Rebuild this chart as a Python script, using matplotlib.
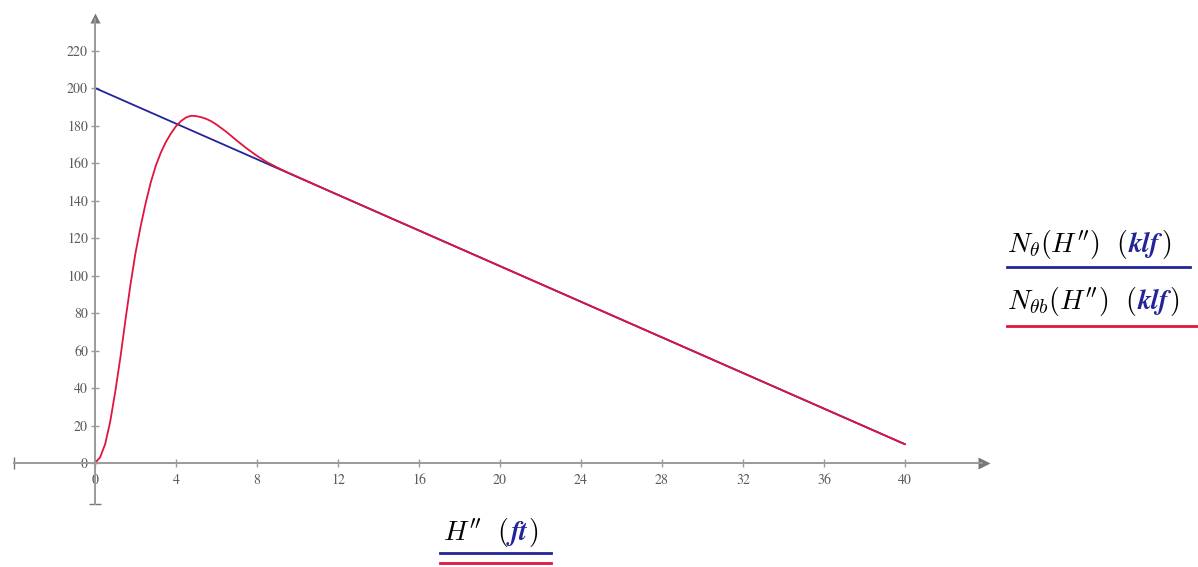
import matplotlib
matplotlib.use("Agg")
import matplotlib.pyplot as plt

plt.rcParams['mathtext.fontset'] = 'cm'

# depth below top of wall H'' (ft)
h_theta = [0, 40]
n_theta = [200, 10]

h_theta_b = [0, 0.25, 0.5, 0.75, 1.0, 1.25, 1.5, 1.75, 2.0, 2.25, 2.5, 2.75,
             3.0, 3.25, 3.5, 3.75, 4.0, 4.25, 4.5, 4.75, 5.0, 5.25, 5.5, 5.75,
             6.0, 6.5, 7.0, 7.5, 8.0, 8.5, 9.0, 9.5, 10.0, 11.0, 12.0, 40.0]
n_theta_b = [0, 3, 10, 22, 38, 56, 76, 95, 112, 126, 138.5, 149.5,
             158.5, 165.5, 171.2, 175.8, 179.6, 182.4, 184.3, 185.2, 185.0, 184.4, 183.5, 182.2,
             180.5, 176.5, 172.0, 167.7, 163.8, 160.4, 157.6, 155.0, 152.6, 147.8, 143.0, 10.0]

x_ticks = list(range(0, 41, 4))
y_ticks = list(range(0, 221, 20))

W, H = 1198, 567
BLUE = '#23239a'
RED = '#e0143c'
AXIS = '#9a9a9a'
LABEL = '#5a5a5a'


def fig_xy(px, py):
    return px / W, 1 - py / H


def draw_axes(ax):
    for side in ['top', 'right']:
        ax.spines[side].set_visible(False)
    ax.spines['left'].set_position(('data', 0))
    ax.spines['bottom'].set_position(('data', 0))
    ax.spines['bottom'].set_bounds(-4, 43.8)
    ax.spines['left'].set_bounds(-22, 237)
    for side in ['left', 'bottom']:
        ax.spines[side].set_color(AXIS)
        ax.spines[side].set_linewidth(1.4)
    ax.set_xticks(x_ticks)
    ax.set_yticks(y_ticks)
    ax.tick_params(direction='inout', length=6, width=1, color=AXIS,
                   labelsize=10, labelcolor=LABEL)
    ax.tick_params(axis='x', pad=5)
    ax.tick_params(axis='y', pad=2)
    for lab in ax.get_xticklabels() + ax.get_yticklabels():
        lab.set_family('STIXGeneral')
    # end caps and arrow heads
    ax.plot([-4], [0], marker='|', ms=8, color='#777777', clip_on=False)
    ax.plot([0], [-22], marker='_', ms=8, color='#777777', clip_on=False)
    ax.plot([43.9], [0], marker='>', ms=8, color='#777777', mec='none', clip_on=False)
    ax.plot([0], [237.5], marker='^', ms=7, color='#777777', mec='none', clip_on=False)


def chained_label(fig, px, py, parts, size=20):
    # parts: list of (text, color, bold-italic flag), laid out on one baseline
    renderer = fig.canvas.get_renderer()
    x, y = fig_xy(px, py)
    for text, color, bold in parts:
        if bold:
            t = fig.text(x, y, text, color=color, fontsize=size, family='STIXGeneral',
                         style='italic', weight='bold', va='baseline', ha='left')
        else:
            t = fig.text(x, y, text, color=color, fontsize=size, va='baseline', ha='left')
        bb = t.get_window_extent(renderer)
        x = fig.transFigure.inverted().transform((bb.x1 + 1, bb.y0))[0]
    return x


def underline(fig, px0, px1, py, color):
    x0, y0 = fig_xy(px0, py)
    x1, _ = fig_xy(px1, py)
    fig.add_artist(plt.Line2D([x0, x1], [y0, y0], color=color, lw=2,
                              transform=fig.transFigure))


def main():
    fig = plt.figure(figsize=(W / 100, H / 100), dpi=100)
    left, right, top, bottom = 10, 995, 5, 510
    ax = fig.add_axes([left / W, 1 - bottom / H, (right - left) / W, (bottom - top) / H])
    ax.set_xlim((left - 95) / 20.25, (right - 95) / 20.25)
    ax.set_ylim((463 - bottom) / 1.875, (463 - top) / 1.875)
    ax.patch.set_visible(False)
    draw_axes(ax)

    ax.plot(h_theta, n_theta, color=BLUE, lw=1.3, solid_capstyle='round')
    ax.plot(h_theta_b, n_theta_b, color=RED, lw=1.3, solid_capstyle='round')

    # legend on the right
    chained_label(fig, 1007, 252, [(r"$N_{\theta}(H'')\ \ ($", 'black', False),
                                   ("klf", BLUE, True), (r"$)$", 'black', False)])
    underline(fig, 1007, 1190, 267, BLUE)
    chained_label(fig, 1007, 309, [(r"$N_{\theta b}(H'')\ \ ($", 'black', False),
                                   ("klf", BLUE, True), (r"$)$", 'black', False)])
    underline(fig, 1007, 1197, 326, RED)

    # x axis label
    chained_label(fig, 443, 540, [(r"$H''\ \ ($", 'black', False),
                                  ("ft", BLUE, True), (r"$)$", 'black', False)])
    underline(fig, 440, 551, 553, BLUE)
    underline(fig, 440, 551, 563, RED)

    fig.savefig("out.png", dpi=100)


if __name__ == "__main__":
    main()
